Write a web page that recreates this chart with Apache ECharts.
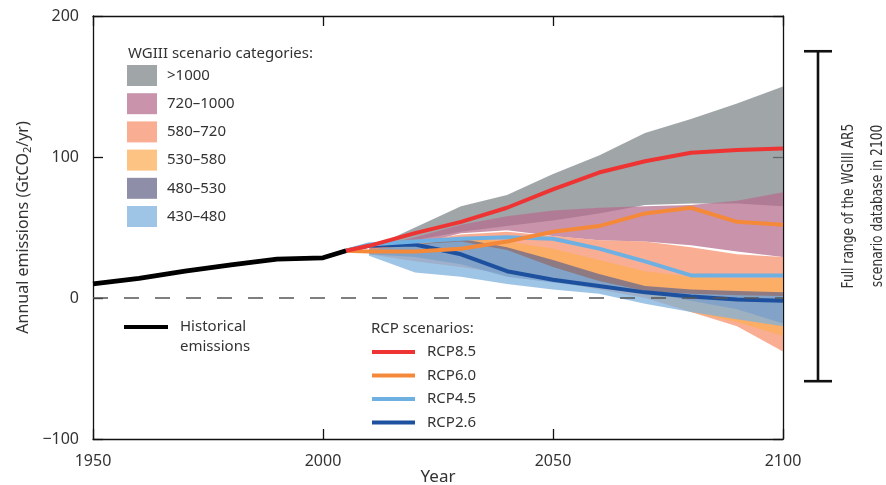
<!DOCTYPE html>
<html>
<head>
<meta charset="utf-8">
<script src="https://cdn.jsdelivr.net/npm/echarts@6/dist/echarts.min.js"></script>
<style>
html,body{margin:0;padding:0;background:#fff;}
#chart{width:886px;height:485px;}
</style>
</head>
<body>
<div id="chart"></div>
<script>
// ---------- data ----------
const histYears = [1950, 1960, 1970, 1980, 1990, 2000, 2005];
const histValues = [10, 14, 19, 23.5, 27.5, 28.5, 33.5];

const rcpYears = [2005, 2010, 2020, 2030, 2040, 2050, 2060, 2070, 2080, 2090, 2100];
const rcp85 = [33.5, 37, 46, 54, 64, 77, 89, 97, 103, 105, 106];
const rcp60 = [33.5, 33, 33, 35, 40, 47, 51, 60, 64, 54, 52];
const rcp45 = [33.5, 38, 40, 42, 43, 42, 35, 26, 16, 16, 16];
const rcp26 = [33.5, 37, 38, 31, 19, 13, 8.5, 4, 1, -1, -2];

const bandYears = [2010, 2020, 2030, 2040, 2050, 2060, 2070, 2080, 2090, 2100];
const cat1000Hi = [35, 50, 65, 73, 88, 101, 117, 127, 138, 150];
const cat1000Lo = [34, 41, 47, 51, 55, 60, 66, 67, 67, 65];
const cat720Hi = [35, 43, 52, 58, 62, 64, 65, 66, 69, 75];
const cat720Lo = [33, 38, 46, 48, 44, 41, 40, 37.5, 33, 29];
const cat580Hi = [35, 40, 45, 47, 44, 41, 40, 36, 31, 29];
const cat580Lo = [31, 26, 22, 17, 12, 6, 0, -10, -20, -38];
const cat530Hi = [34, 38, 43, 40, 35, 27, 19, 15, 14, 14];
const cat530Lo = [32, 30, 26, 20, 14, 8, 2, -10, -17, -27];
const cat480Hi = [34, 38, 42, 36, 27, 17, 8.5, 6, 5, 4];
const cat480Lo = [31, 29, 24, 15, 11, 7, 4, -2, -8, -18];
const cat430Hi = [34, 38, 40, 34, 22, 12, 5, 3, 2, 1.5];
const cat430Lo = [30, 18, 15, 10, 6, 3, -4, -10, -15, -20];

const databaseRange2100 = [-59, 175];

const xTicks = [1950, 2000, 2050, 2100];
const yTicks = [-100, 0, 100, 200];

// ---------- styles ----------
const FONT = '"Noto Sans", "Open Sans", sans-serif';
const NARROW = '"Liberation Sans Narrow", "DejaVu Sans Condensed", "Noto Sans", sans-serif';
const TXT = '#333';

const categories = [
  {name: '>1000',    lo: cat1000Lo, hi: cat1000Hi, legend: '#a0a5a8', fill: 'rgba(128,135,139,0.75)'},
  {name: '720–1000', lo: cat720Lo,  hi: cat720Hi,  legend: '#c893ab', fill: 'rgba(182,111,143,0.75)'},
  {name: '580–720',  lo: cat580Lo,  hi: cat580Hi,  legend: '#f9ad93', fill: 'rgba(247,146,111,0.75)'},
  {name: '530–580',  lo: cat530Lo,  hi: cat530Hi,  legend: '#fdc382', fill: 'rgba(252,175,88,0.75)'},
  {name: '480–530',  lo: cat480Lo,  hi: cat480Hi,  legend: '#8e8ea8', fill: 'rgba(104,104,139,0.75)'},
  {name: '430–480',  lo: cat430Lo,  hi: cat430Hi,  legend: '#9fc5e6', fill: 'rgba(127,178,222,0.75)'}
];

const rcps = [
  {name: 'RCP8.5', values: rcp85, color: '#ee3333'},
  {name: 'RCP6.0', values: rcp60, color: '#f5893a'},
  {name: 'RCP4.5', values: rcp45, color: '#6fb0e2'},
  {name: 'RCP2.6', values: rcp26, color: '#1d509f'}
];

const series = [];
categories.forEach((c) => {
  series.push({
    name: c.name, type: 'custom', silent: true, z: 2,
    itemStyle: {color: c.legend},
    encode: {x: 0, y: [1, 2]},
    data: bandYears.map((y, i) => [y, c.lo[i], c.hi[i]]),
    renderItem: function (params, api) {
      if (params.dataIndex !== 0) return null;
      const upper = bandYears.map((y, i) => api.coord([y, c.hi[i]]));
      const lower = bandYears.map((y, i) => api.coord([y, c.lo[i]])).reverse();
      return {
        type: 'polygon',
        shape: {points: upper.concat(lower)},
        style: {fill: c.fill, stroke: null}
      };
    }
  });
});

rcps.slice().reverse().forEach(r => {
  series.push({
    name: r.name, type: 'line',
    data: rcpYears.map((y, i) => [y, r.values[i]]),
    symbol: 'none', lineStyle: {color: r.color, width: 4, join: 'round'},
    itemStyle: {color: r.color}, z: 4
  });
});

series.push({
  name: 'Historical emissions', type: 'line',
  data: histYears.map((y, i) => [y, histValues[i]]),
  symbol: 'none', lineStyle: {color: '#000', width: 4.8, join: 'round'},
  itemStyle: {color: '#000'}, z: 5
});

series.push({
  name: 'zero', type: 'line',
  data: [[xTicks[0], 0], [xTicks[xTicks.length - 1], 0]],
  symbol: 'none', lineStyle: {color: '#555', width: 1.6, type: [15, 16]}, silent: true, z: 6
});

series.push({
  name: 'database range', type: 'custom', clip: false, silent: true, z: 6,
  data: [[2100, databaseRange2100[0], databaseRange2100[1]]],
  encode: {x: 0, y: [1, 2]},
  renderItem: function (params, api) {
    const p1 = api.coord([api.value(0), api.value(1)]);
    const p2 = api.coord([api.value(0), api.value(2)]);
    const x = p1[0] + 35;
    const st = {stroke: '#111', lineWidth: 2.6};
    return {
      type: 'group',
      children: [
        {type: 'line', shape: {x1: x, y1: p1[1], x2: x, y2: p2[1]}, style: st},
        {type: 'line', shape: {x1: x - 14, y1: p1[1], x2: x + 14, y2: p1[1]}, style: st},
        {type: 'line', shape: {x1: x - 14, y1: p2[1], x2: x + 14, y2: p2[1]}, style: st}
      ]
    };
  }
});

const axisLineStyle = {show: true, onZero: false, lineStyle: {color: '#111', width: 1.3}};
const tickStyle = {show: true, inside: true, length: 10, lineStyle: {color: '#111', width: 1.3}};

const option = {
  animation: false,
  backgroundColor: '#fff',
  grid: {left: 93, right: 103, top: 16, bottom: 46, show: false, containLabel: false, outerBoundsMode: 'none'},
  xAxis: [
    {type: 'value', min: xTicks[0], max: xTicks[3], interval: 50, position: 'bottom',
     axisLine: axisLineStyle, axisTick: tickStyle, splitLine: {show: false},
     axisLabel: {fontSize: 16, color: TXT, fontFamily: FONT, margin: 14, formatter: v => String(v)},
     name: 'Year', nameLocation: 'middle', nameGap: 30, nameMoveOverlap: false,
     nameTextStyle: {fontSize: 17, color: TXT, fontFamily: FONT}},
    {type: 'value', min: xTicks[0], max: xTicks[3], interval: 50, position: 'top',
     axisLine: axisLineStyle, axisTick: tickStyle, splitLine: {show: false},
     axisLabel: {show: false}}
  ],
  yAxis: [
    {type: 'value', min: yTicks[0], max: yTicks[3], interval: 100, position: 'left',
     axisLine: axisLineStyle, axisTick: tickStyle, splitLine: {show: false},
     axisLabel: {fontSize: 16, color: TXT, fontFamily: FONT, margin: 14,
       formatter: v => v < 0 ? '−' + Math.abs(v) : String(v)},
     name: 'Annual emissions (GtCO{sub|2}/yr)', nameLocation: 'middle', nameGap: 60, nameRotate: 90,
     nameMoveOverlap: false,
     nameTextStyle: {fontSize: 16, color: TXT, fontFamily: FONT,
       rich: {sub: {fontSize: 11, color: TXT, fontFamily: FONT, verticalAlign: 'bottom', padding: [8, 0, 0, 0]}}}},
    {type: 'value', min: yTicks[0], max: yTicks[3], interval: 100, position: 'right',
     axisLine: axisLineStyle, axisTick: tickStyle, splitLine: {show: false},
     axisLabel: {show: false}}
  ],
  legend: [
    {
      orient: 'vertical', left: 127, top: 65, padding: 0,
      itemWidth: 30, itemHeight: 21, itemGap: 7.2, selectedMode: false,
      textStyle: {fontSize: 15, color: TXT, fontFamily: FONT, padding: [0, 0, 0, 5]},
      data: categories.map(c => ({name: c.name, icon: 'rect', itemStyle: {color: c.legend, borderWidth: 0}}))
    },
    {
      orient: 'vertical', left: 124, top: 297, padding: 0,
      itemWidth: 44, itemHeight: 4, selectedMode: false,
      formatter: () => ' \nHistorical\nemissions',
      textStyle: {fontSize: 15, color: TXT, fontFamily: FONT, lineHeight: 20, padding: [0, 0, 0, 7]},
      data: [{name: 'Historical emissions', icon: 'rect', itemStyle: {color: '#000', borderWidth: 0}}]
    },
    {
      orient: 'vertical', left: 372, top: 343, padding: 0,
      itemWidth: 43, itemHeight: 4, itemGap: 5.5, selectedMode: false,
      textStyle: {fontSize: 15, color: TXT, fontFamily: FONT, lineHeight: 18, padding: [0, 0, 0, 7]},
      data: rcps.map(r => ({name: r.name, icon: 'rect', itemStyle: {color: r.color, borderWidth: 0}}))
    }
  ],
  graphic: [
    {type: 'text', left: 128, top: 46,
     style: {text: 'WGIII scenario categories:', fontSize: 15, fill: TXT, fontFamily: FONT}},
    {type: 'text', left: 371, top: 321,
     style: {text: 'RCP scenarios:', fontSize: 15, fill: TXT, fontFamily: FONT}},
    {type: 'text', x: 863, y: 206, rotation: Math.PI / 2, scaleX: 0.85,
     style: {text: 'Full range of the WGIII AR5\nscenario database in 2100', fontSize: 16,
       lineHeight: 29, fill: TXT, fontFamily: NARROW, align: 'center', verticalAlign: 'middle'}}
  ],
  series: series
};

const chart = echarts.init(document.getElementById('chart'), null, {renderer: 'canvas'});
chart.setOption(option);
</script>
</body>
</html>
